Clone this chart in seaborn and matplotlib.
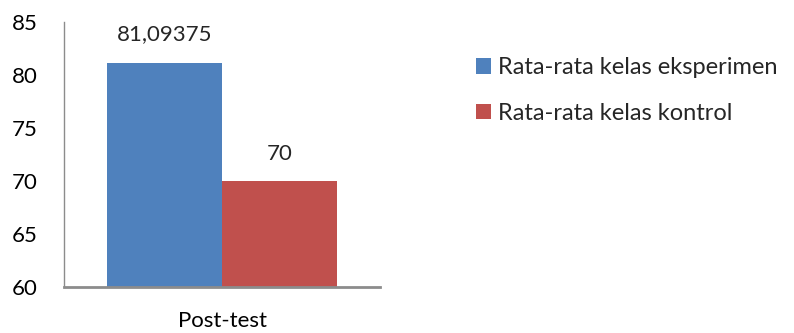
import matplotlib
matplotlib.use("Agg")
import matplotlib.pyplot as plt
import seaborn as sns
import pandas as pd

categories = ["Post-test"]
series = ["Rata-rata kelas eksperimen", "Rata-rata kelas kontrol"]
values = [81.09375, 70]
value_labels = ["81,09375", "70"]
colors = ["#4F81BD", "#C0504D"]
yticks = [60, 65, 70, 75, 80, 85]

sns.set_style("white")
plt.rcParams["font.family"] = ["Lato", "DejaVu Sans"]

df = pd.DataFrame({"cat": categories * len(series), "series": series, "value": values})

fig = plt.figure(figsize=(7.94, 3.33), dpi=100)
ax = fig.add_axes([64/794, 1-287/333, (380-64)/794, (287-22)/333])
sns.barplot(data=df, x="cat", y="value", hue="series", palette=colors,
            width=0.728, saturation=1, ax=ax, legend=True, linewidth=0)
ax.set_ylim(60, 85)
ax.set_yticks(yticks)
ax.set_xlim(-0.5, 0.5)
ax.set_xlabel("")
ax.set_ylabel("")
ax.tick_params(axis="both", length=0, labelsize=16, colors="black")
ax.tick_params(axis="y", pad=19)
ax.tick_params(axis="x", pad=17)
for s in ["top", "right"]:
    ax.spines[s].set_visible(False)
ax.spines["left"].set_color("#8c8c8c")
ax.spines["left"].set_linewidth(1.0)
ax.spines["bottom"].set_color("#8c8c8c")
ax.spines["bottom"].set_linewidth(2.0)

pads = [14, 12]
for cont, lab, p in zip(ax.containers, value_labels, pads):
    ax.bar_label(cont, labels=[lab], padding=p, fontsize=16)

handles, labels = ax.get_legend_handles_labels()
ax.get_legend().remove()
fig.legend(handles, labels, loc="upper left", bbox_to_anchor=(476/794, 1-57/333),
           frameon=False, fontsize=17, handlelength=0.64, handleheight=0.64,
           handletextpad=0.3, labelspacing=1.05, borderaxespad=0, borderpad=0)

fig.savefig("out.png", dpi=100)
